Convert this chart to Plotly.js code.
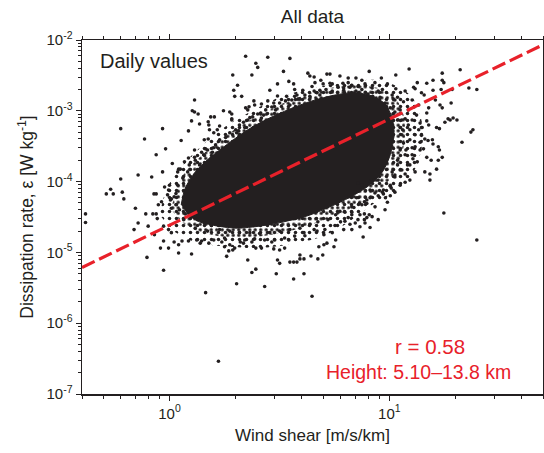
<!DOCTYPE html>
<html>
<head>
<meta charset="utf-8">
<script src="https://cdn.plot.ly/plotly-3.0.1.min.js"></script>
<style>html,body{margin:0;padding:0;background:#fff}#chart{width:544px;height:453px}</style>
</head>
<body>
<div id="chart"></div>
<script>
// ---- Data ----
// Fully black core of the daily-value cloud
var coreShear = [1.13,1.18,1.31,1.52,1.84,2.27,2.80,3.53,4.45,5.66,6.98,8.35,9.56,10.3,10.5,10.1,9.3,8.0,6.62,5.37,4.26,3.30,2.57,2.04,1.66,1.37,1.21];
var coreEps   = [4.7e-5,8.1e-5,1.37e-4,2.15e-4,3.4e-4,5.4e-4,7.7e-4,1.06e-3,1.38e-3,1.67e-3,1.8e-3,1.62e-3,1.25e-3,7.9e-4,4.6e-4,2.4e-4,1.37e-4,8.6e-5,6.0e-5,4.4e-5,3.3e-5,2.7e-5,2.35e-5,2.2e-5,2.35e-5,2.7e-5,3.4e-5];

// Densely speckled ring around the core
var midShear = [1.02,1.07,1.18,1.37,1.66,2.04,2.57,3.24,4.13,5.37,6.98,8.9,10.6,11.6,11.8,11.3,10.3,8.9,7.35,5.96,4.64,3.53,2.68,2.08,1.66,1.34,1.13];
var midEps   = [4.0e-5,7.6e-5,1.37e-4,2.2e-4,3.65e-4,5.8e-4,8.7e-4,1.25e-3,1.67e-3,2.1e-3,2.3e-3,2.1e-3,1.55e-3,8.7e-4,4.6e-4,2.2e-4,1.2e-4,7.1e-5,4.9e-5,3.5e-5,2.6e-5,2.0e-5,1.7e-5,1.6e-5,1.7e-5,2.0e-5,2.7e-5];

// Sparsely speckled outer ring
var outerShear = [0.90,0.95,1.02,1.17,1.34,1.55,1.84,2.20,2.62,3.17,3.92,4.83,5.96,7.35,9.07,10.9,12.7,13.8,14.3,13.8,12.9,11.6,10.1,8.35,6.98,5.8,4.73,3.75,2.98,2.37,1.88,1.52,1.23,1.04];
var outerEps   = [3.4e-5,6.5e-5,1.05e-4,1.84e-4,2.8e-4,4.2e-4,6.3e-4,8.7e-4,1.17e-3,1.55e-3,1.9e-3,2.2e-3,2.45e-3,2.7e-3,2.7e-3,2.2e-3,1.55e-3,8.7e-4,4.6e-4,2.4e-4,1.37e-4,8.9e-5,6.5e-5,4.7e-5,3.1e-5,2.1e-5,1.6e-5,1.35e-5,1.2e-5,1.15e-5,1.2e-5,1.28e-5,1.5e-5,2.0e-5];

// Upper scattered values
var upperShear = [2.22,2.80,3.53,2.47,2.52,1.94,2.37,3.30,3.49,3.67,3.10,4.26,4.35,4.55,4.59,4.88,5.20,5.37,5.0,5.5,6.15,6.2,2.04,1.96,1.98,2.13,2.86,4.04,3.80,3.84,3.41,3.60,4.69,4.83,2.80,2.98,2.42,2.44,2.30,2.22,1.76,1.88,1.92,2.60,2.68,2.17,2.32,1.92,1.69,2.06,2.02,2.08];
var upperEps   = [5.9e-3,5.7e-3,5.5e-3,4.7e-3,4.1e-3,3.2e-3,3.2e-3,3.6e-3,2.6e-3,2.4e-3,2.4e-3,3.4e-3,3.1e-3,3.0e-3,2.5e-3,2.7e-3,3.3e-3,3.3e-3,2.4e-3,2.4e-3,2.45e-3,2.1e-3,2.3e-3,1.95e-3,1.6e-3,1.6e-3,1.95e-3,1.95e-3,1.67e-3,1.46e-3,1.6e-3,1.42e-3,1.8e-3,1.95e-3,1.38e-3,1.29e-3,1.38e-3,1.21e-3,1.14e-3,1.10e-3,1.0e-3,9.6e-4,9.0e-4,9.3e-4,8.7e-4,6.9e-4,8.0e-4,7.7e-4,6.1e-4,5.2e-4,4.9e-4,4.6e-4];

// Left scattered values
var leftShear = [1.30,1.27,1.30,1.35,0.60,0.93,1.22,1.37,1.26,0.77,1.13,1.50,0.96,0.87,1.54,1.60,1.50,1.51,1.52,1.59,1.03,1.10,1.12,0.93,0.83,0.72,0.60,1.22,1.30,1.40,1.46,1.59,0.415,0.415,0.516,0.54,0.555,0.61,0.62,0.70,0.78,0.72,0.69,0.80,0.84,0.87,0.85,0.87,0.854,0.79,0.91,0.94,0.99,0.94,0.89,0.92,0.88,0.94,0.99,1.02,1.05,1.10,1.10,1.14,1.26,1.22,1.33,1.38,1.46,1.40,1.51,1.59,0.95,0.99,1.01,1.05];
var leftEps   = [1.42e-3,1.0e-3,9.6e-4,9.0e-4,5.6e-4,5.6e-4,5.2e-4,6.5e-4,7.2e-4,4.0e-4,3.8e-4,4.0e-4,2.9e-4,2.4e-4,8.2e-4,8.2e-4,7.0e-4,6.3e-4,5.4e-4,4.9e-4,1.8e-4,1.5e-4,1.5e-4,1.37e-4,1.16e-4,1.24e-4,1.09e-4,2.15e-4,2.2e-4,2.6e-4,2.9e-4,3.0e-4,3.5e-5,2.65e-5,6.7e-5,7.8e-5,6.7e-5,7.1e-5,5.7e-5,4.2e-5,3.5e-5,2.6e-5,2.1e-5,2.35e-5,3.5e-5,3.5e-5,6.7e-5,6.7e-5,1.78e-5,8.5e-6,1.15e-5,5.6e-6,1.15e-5,1.45e-5,4.7e-5,5.2e-5,3.0e-5,2.35e-5,2.1e-5,1.9e-5,1.4e-5,1.28e-5,9.8e-6,1.45e-5,9.5e-6,1.45e-5,1.5e-5,1.35e-5,2.7e-6,1.45e-5,1.35e-5,1.5e-5,8.4e-5,7.6e-5,5.5e-5,6.1e-5];

// Right scattered values
var rightShear = [8.1,10.7,12.3,17.4,21.0,15.8,14.8,17.4,17.7,13.4,12.9,13.1,23.0,25.0,19.3,17.2,15.8,14.0,14.4,16.2,19.1,17.0,17.4,14.8,15.1,13.0,18.5,18.9,19.5,20.3,17.9,16.4,16.9,23.5,24.0,21.4,14.8,15.1,13.8,14.1,13.1,14.0,14.5,15.0,15.7,15.8,16.7,16.9,13.1,13.8,14.3,14.8,15.5,16.7,17.4,12.8,13.4,16.4,11.8,13.1,14.5,15.3,10.3,10.6];
var rightEps   = [3.6e-3,3.2e-3,3.9e-3,3.4e-3,3.8e-3,2.7e-3,2.45e-3,2.7e-3,2.5e-3,2.5e-3,2.15e-3,2.05e-3,2.1e-3,2.0e-3,2.0e-3,2.0e-3,1.95e-3,1.8e-3,1.67e-3,1.42e-3,1.29e-3,1.21e-3,1.10e-3,9.3e-4,1.10e-3,1.14e-3,7.7e-4,7.4e-4,7.9e-4,7.4e-4,6.9e-4,5.8e-4,5.6e-4,5.0e-4,5.4e-4,3.6e-4,7.2e-4,6.3e-4,6.7e-4,5.8e-4,4.6e-4,4.5e-4,4.0e-4,3.8e-4,3.9e-4,3.4e-4,3.1e-4,2.8e-4,3.1e-4,2.8e-4,2.9e-4,2.2e-4,2.0e-4,2.0e-4,2.2e-4,2.1e-4,1.9e-4,1.5e-4,1.28e-4,1.37e-4,1.37e-4,1.28e-4,1.37e-4,1.16e-4];

// Lower scattered values
var lowerShear = [1.82,1.86,1.94,1.98,2.27,2.37,2.47,2.02,2.71,3.06,3.10,3.17,3.53,3.67,3.80,3.92,4.09,3.92,4.09,3.67,4.45,4.40,4.73,4.98,4.78,5.04,5.2,5.6,5.7,2.47,2.62,2.98,3.17,3.34,2.1,2.17,2.37,2.44,1.73,1.78,1.88,2.92,3.01,3.49,3.71,4.09,4.55,4.69,6.2,6.0,6.5,6.75,5.04,5.5,5.66,5.96,1.67,17.7,25.0,15.3,10.1,10.2,9.3,9.4,9.8,9.6,8.6,8.17,7.7,7.9,7.9,7.1,7.3,6.9,6.75,7.7,7.9,8.1,8.35,7.2,7.7,7.75,7.0,6.75,7.35,8.17,7.6,7.2,7.5,8.17,8.5,8.9,7.0,6.75];
var lowerEps   = [8.8e-6,1.05e-5,1.08e-5,1.15e-5,7.8e-6,5.2e-6,5.8e-6,3.6e-6,3.3e-6,5.0e-6,7.8e-6,7.0e-6,7.3e-6,7.3e-6,7.3e-6,8.1e-6,8.1e-6,9.2e-6,5.0e-6,4.2e-6,2.4e-6,8.9e-6,8.1e-6,9.2e-6,1.2e-5,1.28e-5,1.35e-5,1.2e-5,1.5e-5,1.15e-5,1.15e-5,1.12e-5,1.08e-5,1.15e-5,1.4e-5,1.35e-5,1.4e-5,1.55e-5,1.4e-5,1.2e-5,1.28e-5,1.4e-5,1.5e-5,1.5e-5,1.7e-5,1.9e-5,2.1e-5,2.0e-5,2.1e-5,2.7e-5,3.1e-5,3.4e-5,1.78e-5,1.9e-5,2.4e-5,3.8e-5,2.9e-7,3.6e-5,1.5e-5,1.05e-4,8.6e-5,8.1e-5,7.1e-5,6.7e-5,5.1e-5,5.9e-5,6.9e-5,7.6e-5,5.2e-5,5.5e-5,4.9e-5,5.9e-5,4.9e-5,4.3e-5,3.7e-5,3.5e-5,3.1e-5,3.4e-5,3.2e-5,2.9e-5,2.9e-5,2.6e-5,2.6e-5,2.1e-5,2.3e-5,2.25e-5,1.65e-5,9.6e-5,8.9e-5,1.0e-4,1.05e-4,1.05e-4,7.1e-5,6.1e-5];

// Values fringing the dense core
var fringeShear = [1.09,1.15,1.21,1.07,1.02,1.23,1.31,1.37,1.43,1.49,1.57,1.62,1.69,1.80,1.88,2.0,2.08,2.20,2.27,2.39,2.52,2.62,2.74,2.92,3.04,3.17,3.37,3.53,3.71,3.92,4.13,4.35,4.55,4.83,5.15,5.5,5.85,6.2,6.62,7.05,7.5,8.0,8.4,9.07,9.56,10.1,10.6,10.9,11.2,11.4,11.6,11.2,11.8,10.9,11.4,10.6,10.1,9.4,8.9,8.17,7.5,6.75,6.28,5.7,5.26,4.73,4.35,3.92,3.53,3.17,2.86,2.57,2.32,2.08,1.88,1.69,1.55,1.44,1.34,1.26,1.18,1.11,1.07,1.02,1.16,1.31,1.49,1.78,2.20,2.71,3.34,4.13,5.09,6.28,7.35,8.61,10.1,11.8,12.4,12.7,12.4,11.8,10.6,9.3,7.75,6.5,5.37,4.45,3.71,3.10,2.62,2.27,1.92,1.65,1.44,1.30,1.17,1.09,1.0,0.98,
  6.75,7.2,8.35,8.9,10.3,10.9,11.6,12.2,11.2,11.4,12.2,12.4,11.9,12.7,12.1,11.2,10.9,11.5,10.7,9.8,8.6,7.5,7.05,6.5,5.96,9.2,11.8,12.7,13.6,13.3,12.7,13.6,13.8,12.4,11.2,10.6,9.56,8.9,6.62];
var fringeEps   = [8.9e-5,1.12e-4,1.37e-4,6.8e-5,5.7e-5,1.72e-4,2.0e-4,1.72e-4,2.4e-4,2.8e-4,2.6e-4,3.3e-4,3.9e-4,4.2e-4,4.9e-4,5.4e-4,6.3e-4,5.8e-4,7.4e-4,8.2e-4,9.0e-4,7.9e-4,1.03e-3,1.13e-3,1.03e-3,1.29e-3,1.38e-3,1.21e-3,1.6e-3,1.46e-3,1.67e-3,1.6e-3,1.9e-3,1.67e-3,2.0e-3,1.9e-3,2.15e-3,1.95e-3,2.15e-3,1.9e-3,2.0e-3,1.72e-3,1.6e-3,1.55e-3,1.29e-3,1.1e-3,9.6e-4,7.4e-4,5.8e-4,4.6e-4,3.5e-4,2.8e-4,2.4e-4,1.72e-4,1.46e-4,1.24e-4,8.9e-5,7.6e-5,6.3e-5,5.9e-5,4.7e-5,4.4e-5,3.7e-5,3.4e-5,2.9e-5,2.7e-5,2.5e-5,2.2e-5,2.1e-5,2.0e-5,1.9e-5,1.85e-5,1.9e-5,1.9e-5,2.0e-5,2.1e-5,2.4e-5,2.6e-5,2.9e-5,3.2e-5,3.5e-5,4.0e-5,4.7e-5,4.2e-5,2.9e-5,2.2e-5,2.0e-5,1.6e-5,1.5e-5,1.5e-5,1.6e-5,1.72e-5,2.1e-5,2.75e-5,3.4e-5,4.4e-5,6.3e-5,9.8e-5,1.72e-4,3.0e-4,5.4e-4,7.7e-4,1.42e-3,2.0e-3,2.4e-3,2.5e-3,2.45e-3,2.2e-3,2.0e-3,1.62e-3,1.25e-3,1.03e-3,7.4e-4,5.4e-4,3.9e-4,2.8e-4,1.9e-4,1.37e-4,8.9e-5,6.5e-5,
  2.3e-3,2.2e-3,2.1e-3,1.9e-3,1.67e-3,1.55e-3,1.34e-3,1.03e-3,1.03e-3,7.4e-4,6.3e-4,3.9e-4,2.8e-4,2.4e-4,1.72e-4,1.46e-4,2.0e-4,5.4e-4,2.05e-3,2.4e-3,2.5e-3,2.7e-3,2.9e-3,2.9e-3,3.1e-3,2.9e-3,1.9e-3,1.42e-3,1.21e-3,8.7e-4,7.4e-4,5.4e-4,3.6e-4,1.05e-4,8.9e-5,7.1e-5,4.0e-5,2.9e-5,2.5e-5];

// Power-law fit  eps = fitCoef * shear^fitExp
var fitCoef = 2.42e-5;
var fitExp = 1.5;
var fitShear = [0.4, 50];

// Tick labels
var xTickVals = [1, 10];
var xTickText = ['10<sup>0</sup>', '10<sup>1</sup>'];
var yTickVals = [1e-7, 1e-6, 1e-5, 1e-4, 1e-3, 1e-2];
var yTickText = ['10<sup>-7</sup>','10<sup>-6</sup>','10<sup>-5</sup>','10<sup>-4</sup>','10<sup>-3</sup>','10<sup>-2</sup>'];

// ---- Build ----
function minorVals(lo, hi) {
  var v = [];
  for (var e = lo; e <= hi; e++) for (var m = 2; m <= 9; m++) v.push(m * Math.pow(10, e));
  return v;
}
var ink = '#231f20';
var red = '#e8212a';
var fontFam = '"Liberation Sans", Arial, Helvetica, sans-serif';

var allShear = [].concat(upperShear, leftShear, rightShear, lowerShear, fringeShear);
var allEps = [].concat(upperEps, leftEps, rightEps, lowerEps, fringeEps);
var fitEps = fitShear.map(function (s) { return fitCoef * Math.pow(s, fitExp); });

function speckle(xs, ys, size, solidity) {
  return {x: xs, y: ys, type: 'scatter', mode: 'lines', fill: 'toself',
    fillcolor: 'rgba(0,0,0,0)', line: {width: 0, color: 'rgba(0,0,0,0)', shape: 'spline', smoothing: 0.8},
    fillpattern: {shape: '.', size: size, solidity: solidity, fgcolor: ink, fgopacity: 1, bgcolor: 'rgba(0,0,0,0)'},
    hoverinfo: 'skip', showlegend: false};
}

var traces = [
  speckle(outerShear, outerEps, 7, 0.2),
  speckle(midShear, midEps, 5.5, 0.3),
  {x: coreShear, y: coreEps, type: 'scatter', mode: 'lines', fill: 'toself',
   fillcolor: ink, line: {color: ink, width: 1, shape: 'spline', smoothing: 0.8}, hoverinfo: 'skip', showlegend: false},
  {x: allShear, y: allEps, type: 'scatter', mode: 'markers',
   marker: {color: ink, size: 3.6}, hoverinfo: 'skip', showlegend: false},
  {x: fitShear, y: fitEps, type: 'scatter', mode: 'lines',
   line: {color: red, width: 3.2, dash: '14px,5px'}, hoverinfo: 'skip', showlegend: false}
];

var axisCommon = {
  type: 'log', showgrid: false, zeroline: false, showline: true, linecolor: ink, linewidth: 1.5,
  mirror: 'ticks', ticks: 'outside', ticklen: 5, tickwidth: 1, tickcolor: ink,
  tickmode: 'array', tickfont: {family: fontFam, size: 15, color: ink}
};

var layout = {
  width: 544, height: 453,
  margin: {l: 82, r: 1, t: 40, b: 59},
  paper_bgcolor: '#ffffff', plot_bgcolor: '#ffffff',
  font: {family: fontFam, color: ink},
  title: {text: 'All data', x: 0.5, xref: 'paper', xanchor: 'center', y: 1 - 16 / 453, yref: 'container', yanchor: 'middle',
          font: {family: fontFam, size: 19, color: ink}},
  xaxis: Object.assign({}, axisCommon, {
    range: [Math.log10(0.4), Math.log10(50)],
    tickvals: xTickVals, ticktext: xTickText,
    minor: {tickmode: 'array', tickvals: minorVals(-1, 1), ticks: 'outside', ticklen: 3, tickwidth: 1, tickcolor: ink, showgrid: false},
    title: {text: 'Wind shear [m/s/km]', font: {family: fontFam, size: 17, color: ink}, standoff: 8}
  }),
  yaxis: Object.assign({}, axisCommon, {
    range: [-7, -2],
    tickvals: yTickVals, ticktext: yTickText,
    minor: {tickmode: 'array', tickvals: minorVals(-7, -3), ticks: 'outside', ticklen: 3, tickwidth: 1, tickcolor: ink, showgrid: false},
    title: {text: 'Dissipation rate, ε [W kg<sup>-1</sup>]', font: {family: fontFam, size: 17.5, color: ink}, standoff: 8}
  }),
  annotations: [
    {text: 'Daily values', xref: 'paper', yref: 'paper', x: (98 - 82) / 461, y: (394 - 61) / 354,
     xanchor: 'left', yanchor: 'middle', showarrow: false, font: {family: fontFam, size: 20, color: ink}},
    {text: 'r = 0.58', xref: 'paper', yref: 'paper', x: (430 - 82) / 461, y: (394 - 346) / 354,
     xanchor: 'center', yanchor: 'middle', showarrow: false, font: {family: fontFam, size: 20.5, color: red}},
    {text: 'Height: 5.10–13.8 km', xref: 'paper', yref: 'paper', x: (418 - 82) / 461, y: (394 - 372) / 354,
     xanchor: 'center', yanchor: 'middle', showarrow: false, font: {family: fontFam, size: 19.5, color: red}}
  ]
};

Plotly.newPlot('chart', traces, layout, {displayModeBar: false, staticPlot: true});
</script>
</body>
</html>
